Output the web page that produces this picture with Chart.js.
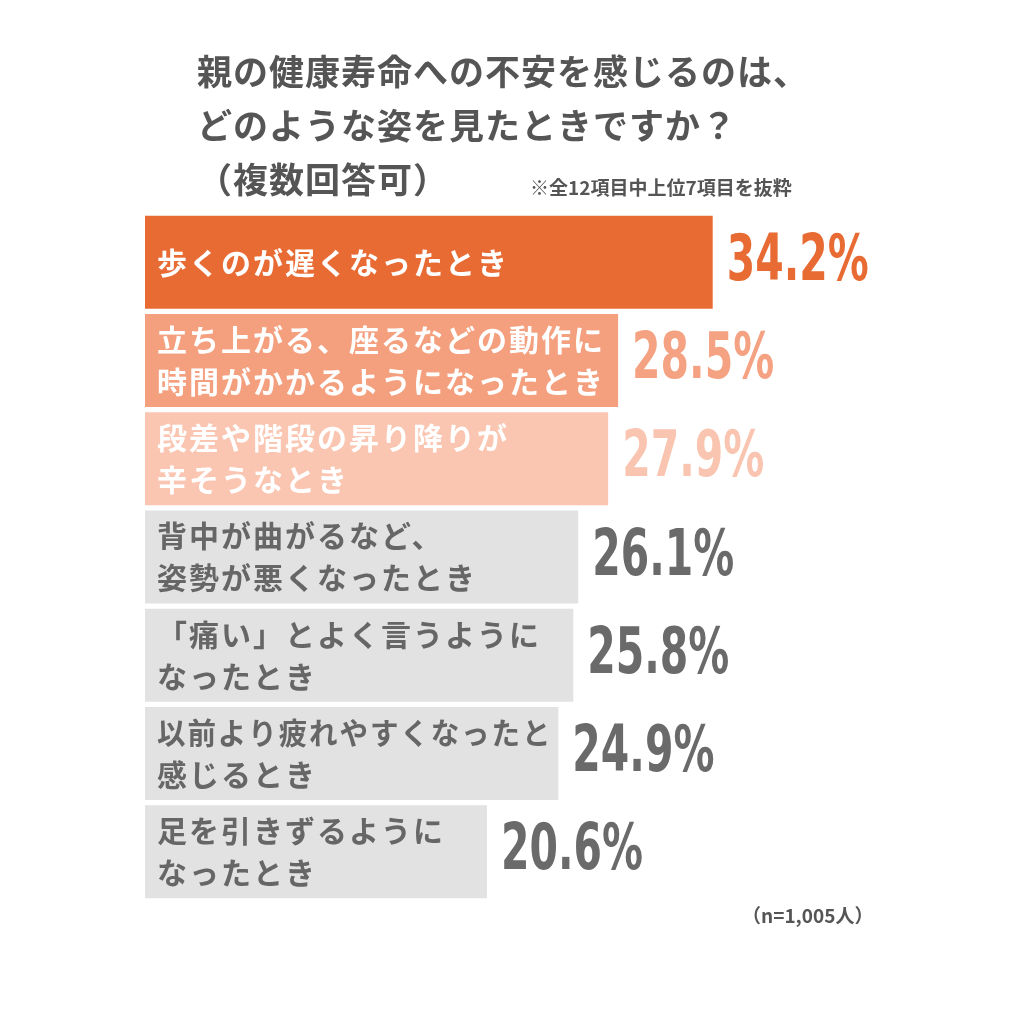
<!DOCTYPE html>
<html>
<head>
<meta charset="utf-8">
<script src="https://cdn.jsdelivr.net/npm/chart.js@4/dist/chart.umd.min.js"></script>
<style>
  html, body { margin: 0; padding: 0; background: #fff; }
  canvas { display: block; }
</style>
</head>
<body>
<canvas id="chart" width="1024" height="1024"></canvas>
<script>
// データ
const titleLines = ['親の健康寿命への不安を感じるのは、', 'どのような姿を見たときですか？', '（複数回答可）'];
const subNote = '※全12項目中上位7項目を抜粋';
const sampleNote = '（n=1,005人）';
const labels = [
    ['歩くのが遅くなったとき'],
    ['立ち上がる、座るなどの動作に', '時間がかかるようになったとき'],
    ['段差や階段の昇り降りが', '辛そうなとき'],
    ['背中が曲がるなど、', '姿勢が悪くなったとき'],
    ['「痛い」とよく言うように', 'なったとき'],
    ['以前より疲れやすくなったと', '感じるとき'],
    ['足を引きずるように', 'なったとき']
];
const values = [34.2, 28.5, 27.9, 26.1, 25.8, 24.9, 20.6];
const barColors = ['#E96B34', '#F4A07F', '#FAC6B2', '#E2E2E2', '#E2E2E2', '#E2E2E2', '#E2E2E2'];
const valueColors = ['#E96B34', '#F5A283', '#F9C5B1', '#6A6A6A', '#6A6A6A', '#6A6A6A', '#6A6A6A'];
const innerColors = ['#FFFFFF', '#FFFFFF', '#FFFFFF', '#666666', '#666666', '#666666', '#666666'];

const jpFont = '"Noto Sans CJK JP", "Noto Sans", sans-serif';

// テキスト描画プラグイン
const textPlugin = {
    id: 'textPlugin',
    afterDatasetsDraw(chart) {
        const ctx = chart.ctx;
        const meta = chart.getDatasetMeta(0);
        const left = chart.chartArea.left;
        ctx.save();

        // タイトル
        ctx.fillStyle = '#555555';
        ctx.font = 'bold 35px ' + jpFont;
        ctx.textBaseline = 'middle';
        ctx.textAlign = 'left';
        ctx.letterSpacing = '1px';
        ctx.fillText(titleLines[0], 197, 72);
        ctx.fillText(titleLines[1], 197, 126);
        ctx.fillText(titleLines[2], 197, 180);

        ctx.letterSpacing = '0px';
        ctx.font = 'bold 19px ' + jpFont;
        ctx.fillText(subNote, 530, 188);
        ctx.fillText(sampleNote, 742, 916);

        meta.data.forEach((bar, i) => {
            // 棒の中のラベル
            ctx.fillStyle = innerColors[i];
            ctx.font = 'bold 30px ' + jpFont;
            ctx.letterSpacing = '2px';
            ctx.textAlign = 'left';
            const lines = labels[i];
            const lh = 42;
            const y0 = bar.y - (lines.length - 1) * lh / 2;
            const maxW = bar.x - left - 18;
            lines.forEach((t, k) => ctx.fillText(t, left + 12, y0 + k * lh, maxW));

            // 値ラベル（横に圧縮）
            ctx.letterSpacing = '0px';
            ctx.fillStyle = valueColors[i];
            ctx.font = 'bold 64px "DejaVu Sans", sans-serif';
            ctx.save();
            ctx.translate(bar.x + 14, bar.y + 1);
            ctx.scale(0.64, 1);
            ctx.fillText(values[i].toFixed(1) + '%', 0, 0);
            ctx.restore();
        });
        ctx.restore();
    }
};

new Chart(document.getElementById('chart').getContext('2d'), {
    type: 'bar',
    data: {
        labels: labels,
        datasets: [{
            data: values,
            backgroundColor: barColors,
            borderWidth: 0,
            barPercentage: 0.946,
            categoryPercentage: 1.0
        }]
    },
    options: {
        indexAxis: 'y',
        responsive: false,
        animation: false,
        layout: {
            padding: { left: 145, right: 215, top: 213, bottom: 123 }
        },
        scales: {
            x: { display: false, min: 0, max: 40 },
            y: { display: false }
        },
        plugins: {
            legend: { display: false },
            tooltip: { enabled: false }
        }
    },
    plugins: [textPlugin]
});
</script>
</body>
</html>
